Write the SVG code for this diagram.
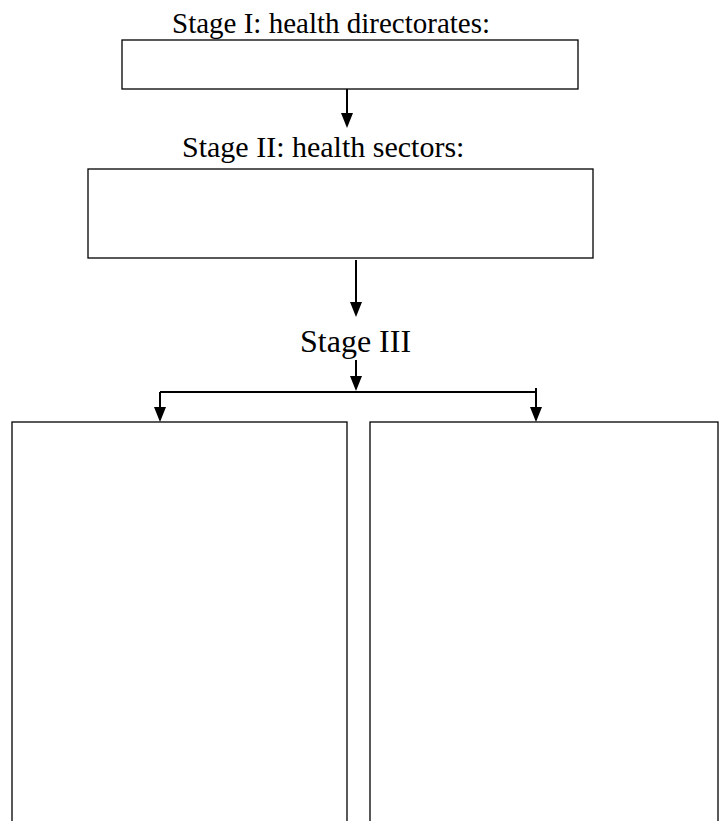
<svg xmlns="http://www.w3.org/2000/svg" width="723" height="821" viewBox="0 0 723 821">
<style>
.box{fill:#fff;stroke:#000;stroke-width:1.3}
.lbl{font-family:"Liberation Serif","Times New Roman",serif;fill:#000}
.ln{stroke:#000;stroke-width:2;fill:none}
</style>
<defs>
<marker id="ah" markerWidth="12" markerHeight="15" refX="6" refY="15" orient="auto-start-reverse" markerUnits="userSpaceOnUse" viewBox="0 0 12 15">
<path d="M0,0 L12,0 L6,15 Z" fill="#000"/>
</marker>
</defs>
<rect width="723" height="821" fill="#fff"/>
<g id="stage1">
<text class="lbl" x="172" y="33" font-size="29">Stage I: health directorates:</text>
<rect class="box" x="122" y="40" width="456" height="49"/>
</g>
<g id="stage2">
<text class="lbl" x="182" y="157" font-size="30">Stage II: health sectors:</text>
<rect class="box" x="88" y="169" width="505" height="89"/>
</g>
<g id="stage3">
<text class="lbl" x="300" y="352" font-size="32">Stage III</text>
</g>
<g id="left-box">
<rect class="box" x="12" y="422" width="335" height="420"/>
</g>
<g id="right-box">
<rect class="box" x="370" y="422" width="348" height="420"/>
</g>
<g id="connectors">
<path class="ln" d="M347,89 L347,113"/>
<path d="M341,113 L353,113 L347,128 Z"/>
<path class="ln" d="M356,260 L356,302"/>
<path d="M350,302 L362,302 L356,317 Z"/>
<path class="ln" d="M356,360 L356,376"/>
<path d="M350,376 L362,376 L356,391 Z"/>
<path class="ln" d="M160,392 L536,392" stroke-width="1.5"/>
<path class="ln" d="M160,392 L160,407"/>
<path d="M154,407 L166,407 L160,422 Z"/>
<path class="ln" d="M536,388 L536,407"/>
<path d="M530,407 L542,407 L536,422 Z"/>
</g>
</svg>
